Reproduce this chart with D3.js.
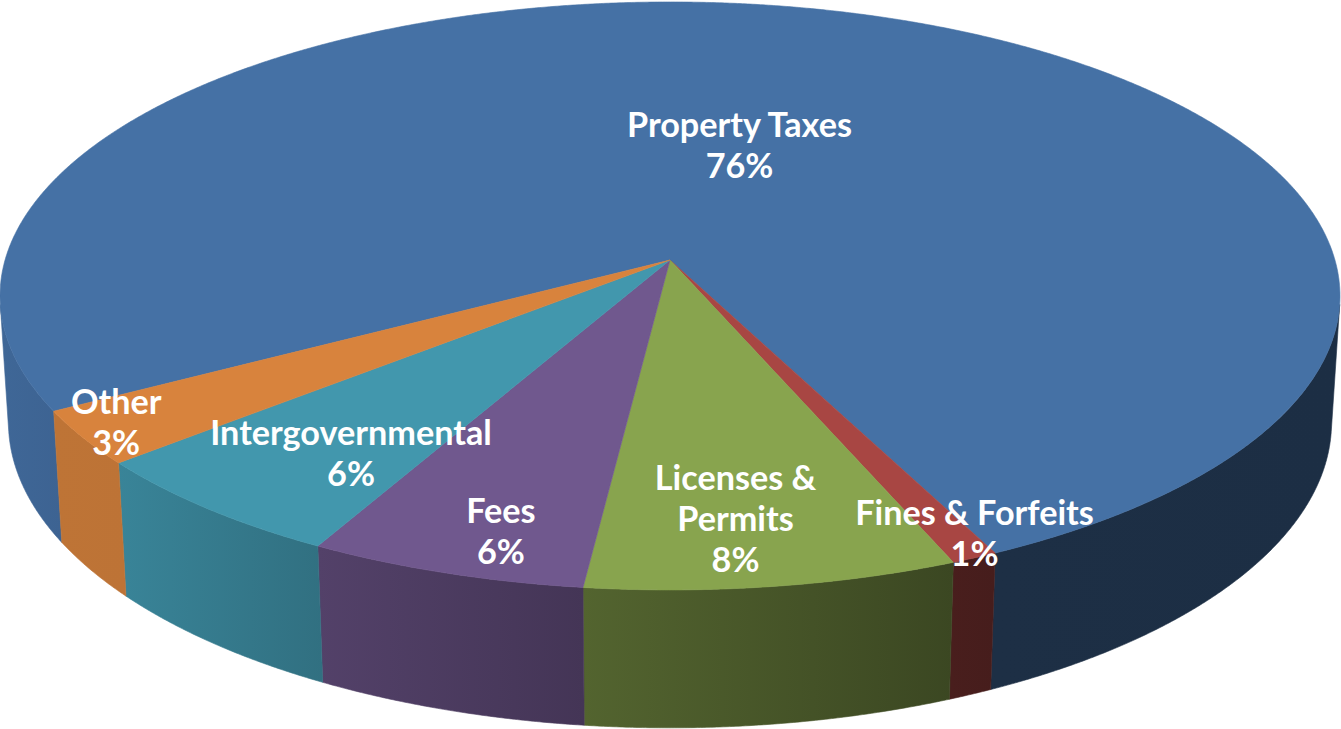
<!DOCTYPE html>
<html><head><meta charset="utf-8">
<script src="https://cdn.jsdelivr.net/npm/d3@7"></script>
<style>html,body{margin:0;padding:0;background:#fff;overflow:hidden}</style>
</head><body>
<svg id="chart" width="1341" height="729"></svg>
<script>
// ---- data ----
const categories = ["Property Taxes", "Fines & Forfeits", "Licenses & Permits", "Fees", "Intergovernmental", "Other"];
const values = [76, 1, 8, 6, 6, 3];
const labelLines = [["Property Taxes"], ["Fines & Forfeits"], ["Licenses &", "Permits"], ["Fees"], ["Intergovernmental"], ["Other"]];
const baseColors = ["#4F81BD", "#C0504D", "#9BBB59", "#8064A2", "#4BACC6", "#F79646"];

// ---- layout (not data) ----
const labelRadius = [0.43, 0.94, 0.81, 0.87, 0.76, 0.94];
const labelAngleNudge = [-2.6, -1.9, 1.5, -2.2, -3.3, 0.8];
const firstSliceAngle = 240.6; // degrees, clockwise from 12 o'clock

const svg = d3.select("#chart");
const deg = Math.PI / 180;
const cam = {cx: 670, cy: 260, s: 4894, D: 7.36, sinPhi: 0.4355, h: 0.212};
cam.cosPhi = Math.sqrt(1 - cam.sinPhi * cam.sinPhi);

function proj(t, r, z) {
  const x = r * Math.sin(t), y = r * Math.cos(t);
  const depth = cam.D + y * cam.cosPhi - z * cam.sinPhi;
  const v = y * cam.sinPhi + z * cam.cosPhi;
  return [cam.cx + cam.s * x / depth, cam.cy - cam.s * v / depth];
}
function arcPts(a, b, z) {
  const n = Math.max(2, Math.ceil((b - a) / (0.25 * deg)));
  const pts = [];
  for (let i = 0; i <= n; i++) pts.push(proj(a + (b - a) * i / n, 1, z));
  return pts;
}
const line = d3.line();

const total = d3.sum(values);
const pie = d3.pie().sort(null).value(d => d)
  .startAngle(firstSliceAngle * deg).endAngle(firstSliceAngle * deg + 2 * Math.PI);
const arcs = pie(values);

// visible side range (front-facing)
const visLimit = Math.acos(-1 / (cam.D * cam.cosPhi));
const visA = visLimit, visB = 2 * Math.PI - visLimit;

const shade = d3.scaleLinear()
  .domain([98, 154, 158, 186, 208, 229, 240, 262])
  .range([0.36, 0.365, 0.38, 0.53, 0.65, 0.765, 0.77, 0.80]).clamp(true);
function scaleColor(c, f) { const r = d3.rgb(c); return d3.rgb(r.r * f, r.g * f, r.b * f).formatHex(); }

const defs = svg.append("defs");
const sides = svg.append("g");
const tops = svg.append("g");
const labels = svg.append("g");

let gid = 0;
arcs.forEach((d, i) => {
  for (let k = -1; k <= 2; k++) {
    const lo = Math.max(d.startAngle, visA + k * 2 * Math.PI);
    const hi = Math.min(d.endAngle, visB + k * 2 * Math.PI);
    if (hi <= lo) continue;
    const top = arcPts(lo, hi, 0);
    const bot = arcPts(lo, hi, -cam.h).reverse();
    const id = "g" + (gid++);
    const norm = t => ((t / deg) % 360 + 360) % 360;
    const g = defs.append("linearGradient").attr("id", id).attr("x1", 0).attr("x2", 1).attr("y1", 0).attr("y2", 0);
    g.append("stop").attr("offset", 0).attr("stop-color", scaleColor(baseColors[i], shade(norm(hi))));
    g.append("stop").attr("offset", 1).attr("stop-color", scaleColor(baseColors[i], shade(norm(lo))));
    sides.append("path").attr("d", line(top.concat(bot)) + "Z")
      .attr("fill", `url(#${id})`).attr("stroke", `url(#${id})`).attr("stroke-width", 0.6);
  }
  const pts = [proj(0, 0, 0)].concat(arcPts(d.startAngle, d.endAngle, 0));
  tops.append("path").attr("d", line(pts) + "Z")
    .attr("fill", scaleColor(baseColors[i], 0.875))
    .attr("stroke", scaleColor(baseColors[i], 0.875)).attr("stroke-width", 0.6);
});

// labels
const fmt = d3.format(".0%");
const probe = labels.append("text").attr("font-family", "Lato, 'Open Sans', sans-serif")
  .attr("font-weight", "bold").attr("font-size", 30).text(categories[0]);
const fontSize = 30 * 225 / probe.node().getComputedTextLength();
probe.remove();
const lh = 41, capHalf = fontSize * 0.36;

arcs.forEach((d, i) => {
  const mid = (d.startAngle + d.endAngle) / 2 + labelAngleNudge[i] * deg;
  const [x, y] = proj(mid, labelRadius[i], 0);
  const lines = labelLines[i].concat([fmt(d.value / total)]);
  const t = labels.append("text")
    .attr("font-family", "Lato, 'Open Sans', sans-serif").attr("font-weight", "bold")
    .attr("font-size", fontSize).attr("fill", "#fff").attr("text-anchor", "middle");
  lines.forEach((s, j) => {
    t.append("tspan").attr("x", x)
      .attr("y", y + (j - (lines.length - 1) / 2) * lh + capHalf).text(s);
  });
});
</script>
</body></html>
